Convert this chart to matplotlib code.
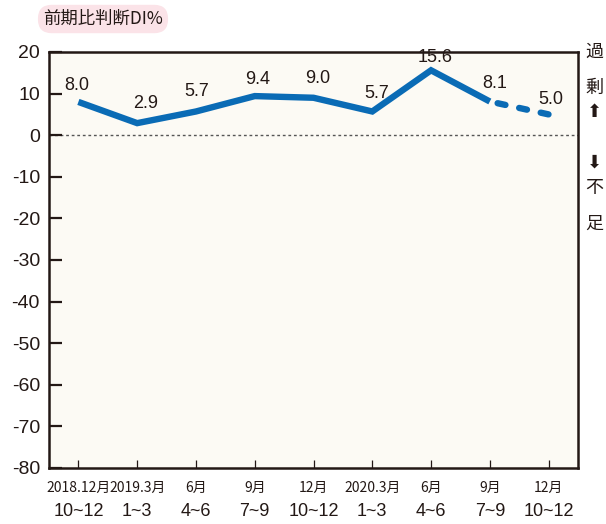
import matplotlib
matplotlib.use('Agg')
import matplotlib.pyplot as plt

plt.rcParams['font.family'] = ['Liberation Sans', 'Noto Sans CJK JP', 'DejaVu Sans']
plt.rcParams['axes.unicode_minus'] = False

values = [8.0, 2.9, 5.7, 9.4, 9.0, 5.7, 15.6, 8.1, 5.0]
labels_top = ['2018.12月', '2019.3月', '6月', '9月', '12月', '2020.3月', '6月', '9月', '12月']
labels_bottom = ['10~12', '1~3', '4~6', '7~9', '10~12', '1~3', '4~6', '7~9', '10~12']
n_actual = 8  # last point is a forecast (dashed)
label_offsets = [(-2, 16), (8, 20), (1, 20), (3, 17), (4, 19), (4, 18), (4, 13), (5, 18), (2, 15)]

W, H = 606, 524
fig = plt.figure(figsize=(W / 100, H / 100), dpi=100)
ax = fig.add_axes([49 / W, 1 - 468 / H, (578 - 49) / W, (468 - 52) / H])
ax.set_facecolor('#fcfaf4')

line_color = '#0a6bb5'
frame_color = '#231815'
x = list(range(len(values)))

ax.axhline(0, color='#555555', lw=1, ls=(0, (2, 2)), zorder=1)
ax.plot(x[:n_actual], values[:n_actual], color=line_color, lw=4.6,
        solid_joinstyle='miter', solid_capstyle='butt', zorder=3)
ax.plot(x[n_actual - 1:], values[n_actual - 1:], color=line_color, lw=4.6,
        ls=(2.2, (1.25, 2.2)), dash_capstyle='round', zorder=3)

for xi, v, (dx, dy) in zip(x, values, label_offsets):
    ax.annotate(f'{v:.1f}', (xi, v), xytext=(dx, dy), textcoords='offset pixels',
                ha='center', va='center', fontsize=13, color='#231815')

ax.set_xlim(-0.5, 8.5)
ax.set_ylim(-80, 20)
ax.set_yticks(range(-80, 21, 10))
ax.set_xticks(x)
ax.set_xticklabels([])

for s in ax.spines.values():
    s.set_color(frame_color)
    s.set_linewidth(1.8)

ax.tick_params(axis='y', direction='in', length=9.5, width=1.6, pad=6.5,
               labelsize=14, colors=frame_color)
ax.tick_params(axis='x', direction='in', length=6, width=0.9, colors=frame_color)

for xi, t1, t2 in zip(x, labels_top, labels_bottom):
    ax.text(xi, -0.048, t1, transform=ax.get_xaxis_transform(), ha='center', va='center',
            fontsize=10, family=['Liberation Sans Narrow', 'Noto Sans CJK JP'], color=frame_color)
    ax.text(xi, -0.104, t2, transform=ax.get_xaxis_transform(), ha='center', va='center',
            fontsize=13, color=frame_color)

# title badge
fig.text(103 / W, 1 - 19 / H, '前期比判断DI%', ha='center', va='center', fontsize=12.5,
         family=['Noto Sans CJK JP'], color='#231815',
         bbox=dict(boxstyle='round,pad=0.3,rounding_size=0.8', fc='#fbe3e8', ec='none'))

# side legend
side = [('過', 52, 'Noto Sans CJK JP', 13), ('剰', 88, 'Noto Sans CJK JP', 13),
        ('⬆', 112, 'DejaVu Sans', 13), ('⬇', 163, 'DejaVu Sans', 13),
        ('不', 188, 'Noto Sans CJK JP', 13), ('足', 224, 'Noto Sans CJK JP', 13)]
for t, yy, fam, fs in side:
    fig.text(594 / W, 1 - yy / H, t, ha='center', va='center', fontsize=fs,
             family=[fam], color='#231815')

plt.savefig('out.png', dpi=100)
